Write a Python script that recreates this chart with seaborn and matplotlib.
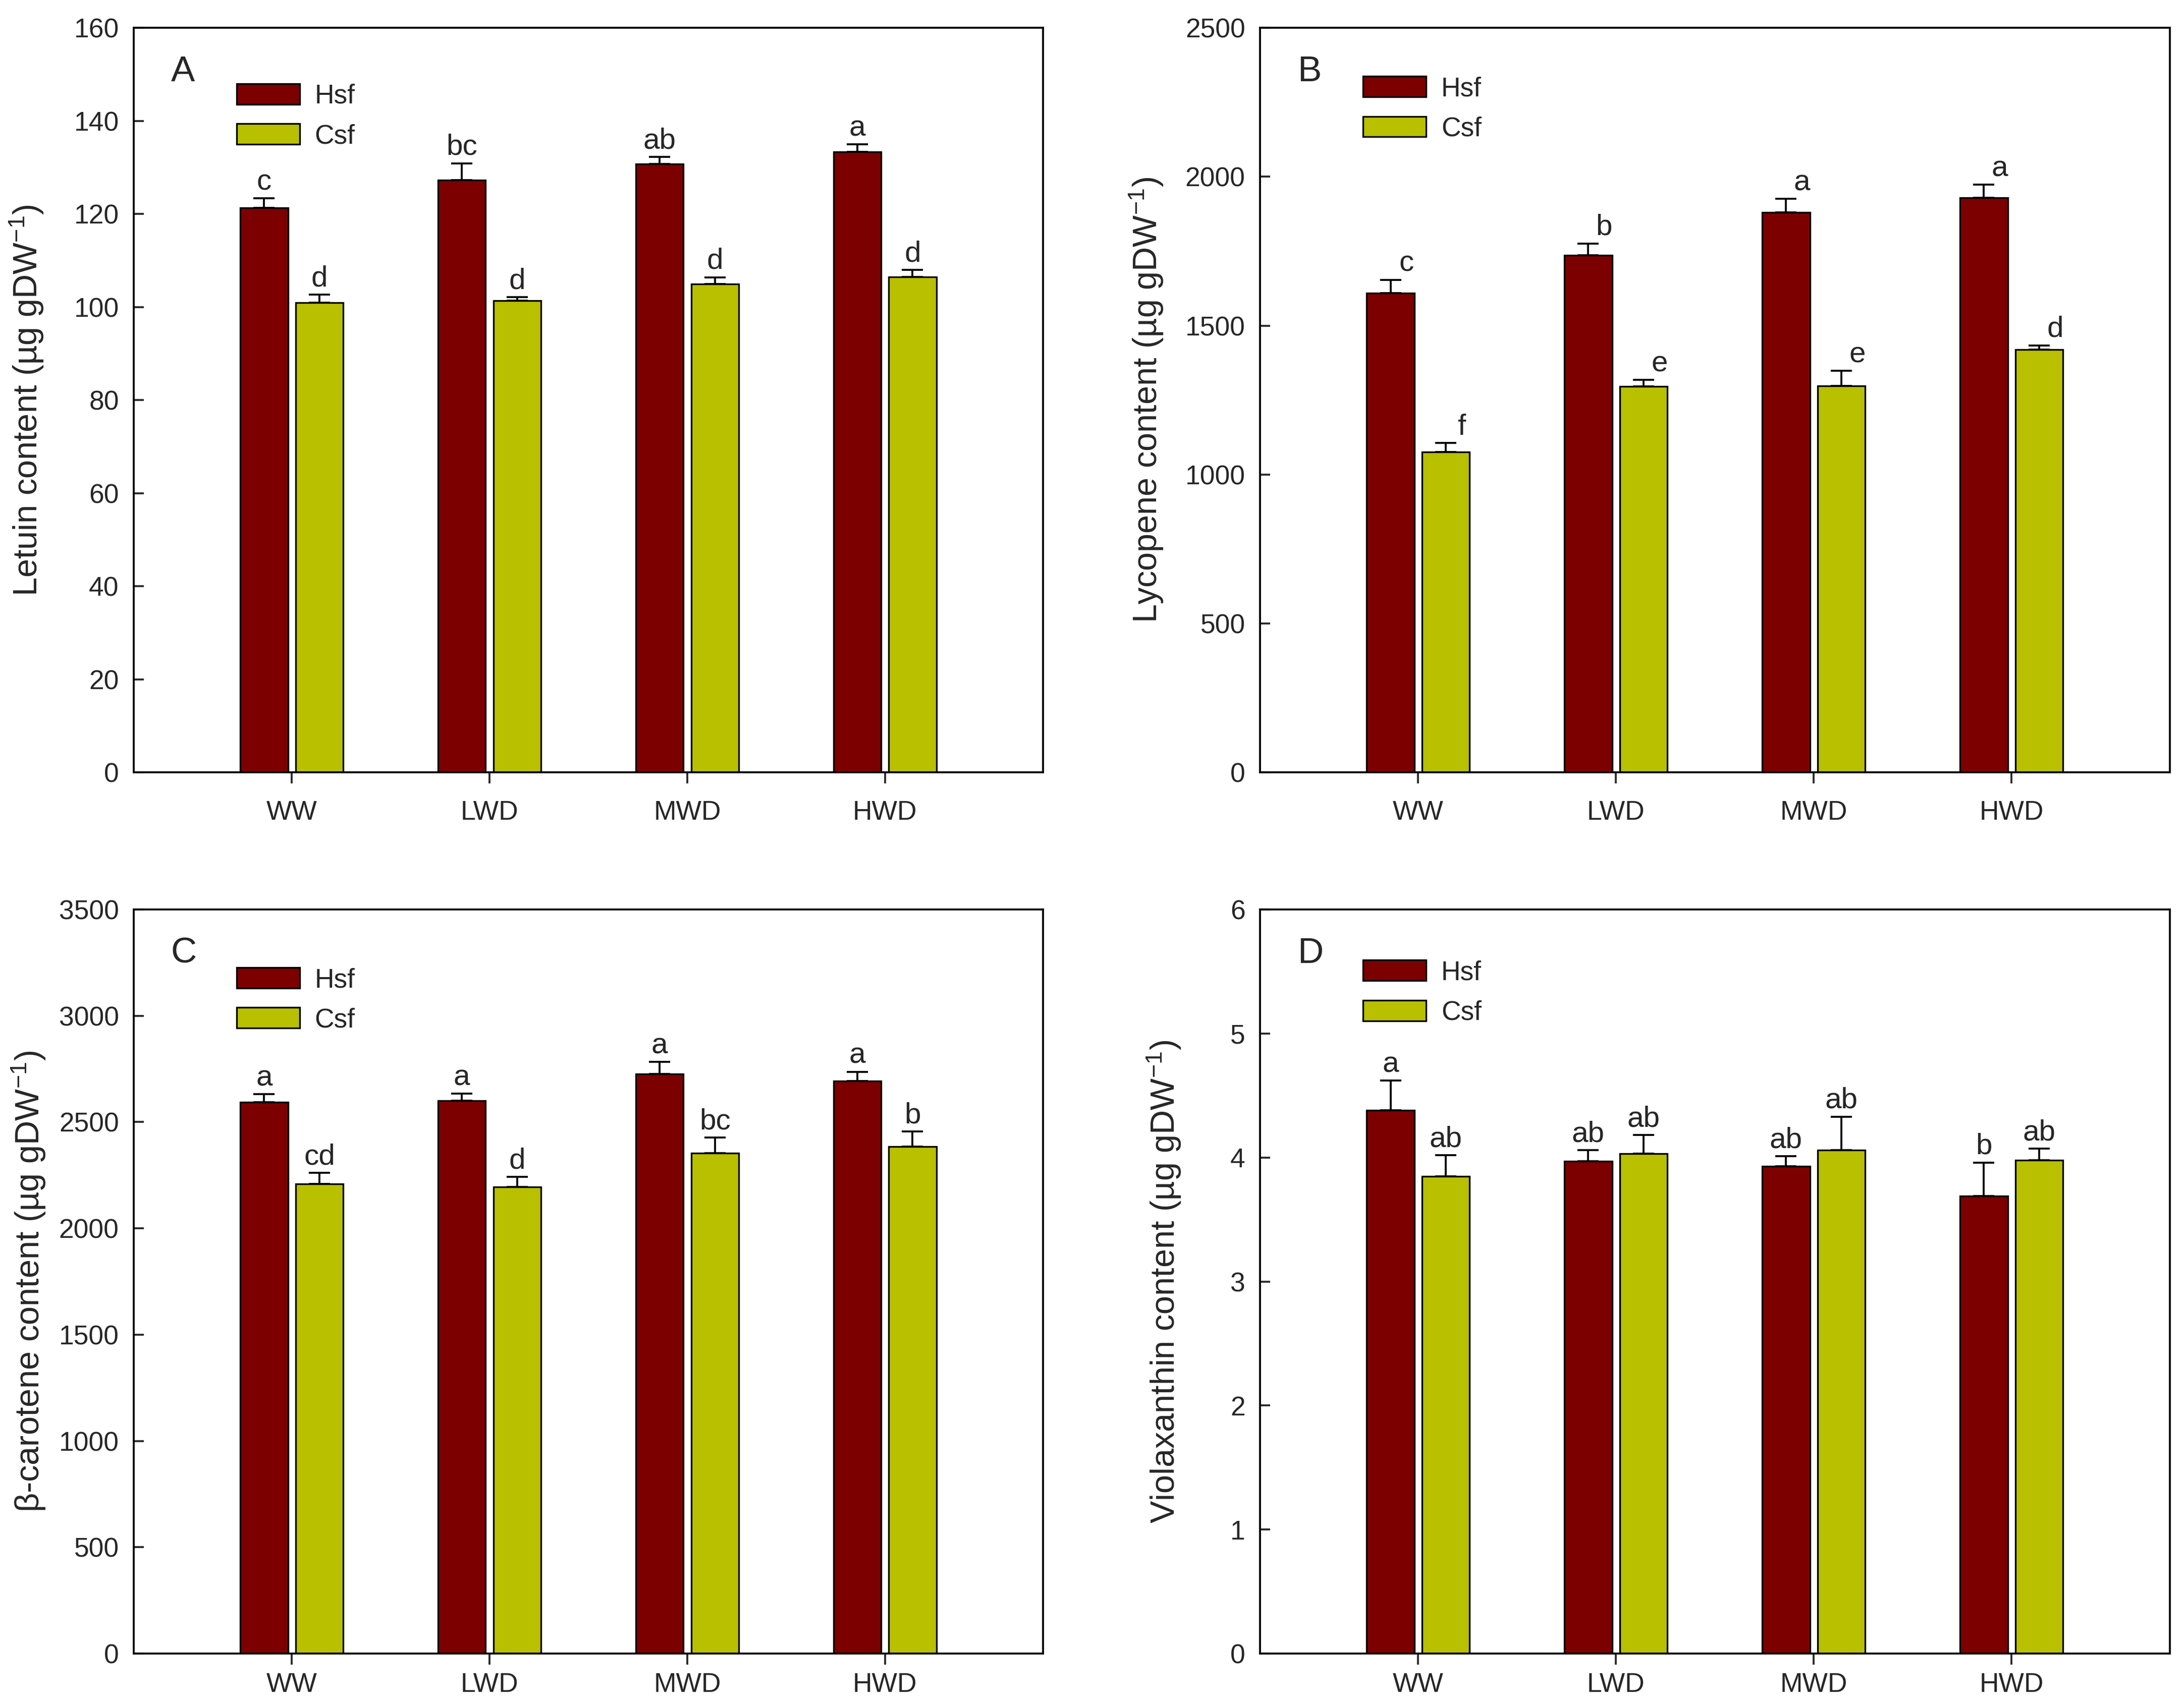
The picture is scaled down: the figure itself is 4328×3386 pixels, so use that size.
import numpy as np
import pandas as pd
import matplotlib
matplotlib.use("Agg")
import matplotlib.pyplot as plt
import seaborn as sns

# ---- data ----
treatments = ["WW", "LWD", "MWD", "HWD"]
sources = ["Hsf", "Csf"]

letuin_hsf = [121.3, 127.3, 130.8, 133.4]
letuin_csf = [100.9, 101.4, 104.9, 106.5]
letuin_hsf_se = [2.1, 3.6, 1.5, 1.6]
letuin_csf_se = [1.8, 0.7, 1.5, 1.5]
letuin_hsf_sig = ["c", "bc", "ab", "a"]
letuin_csf_sig = ["d", "d", "d", "d"]

lycopene_hsf = [1610, 1736, 1880, 1930]
lycopene_csf = [1075, 1296, 1298, 1420]
lycopene_hsf_se = [44, 40, 46, 43]
lycopene_csf_se = [31, 22, 51, 14]
lycopene_hsf_sig = ["c", "b", "a", "a"]
lycopene_csf_sig = ["f", "e", "e", "d"]

carotene_hsf = [2593, 2601, 2727, 2693]
carotene_csf = [2209, 2194, 2355, 2384]
carotene_hsf_se = [39, 33, 56, 44]
carotene_csf_se = [52, 49, 72, 71]
carotene_hsf_sig = ["a", "a", "a", "a"]
carotene_csf_sig = ["cd", "d", "bc", "b"]

viola_hsf = [4.38, 3.97, 3.93, 3.69]
viola_csf = [3.85, 4.03, 4.06, 3.98]
viola_hsf_se = [0.24, 0.09, 0.08, 0.27]
viola_csf_se = [0.17, 0.15, 0.27, 0.09]
viola_hsf_sig = ["a", "ab", "ab", "b"]
viola_csf_sig = ["ab", "ab", "ab", "ab"]

panel_letters = ["A", "B", "C", "D"]
ylabels = [
    r"Letuin content (µg gDW$^{-1}$)",
    r"Lycopene content (µg gDW$^{-1}$)",
    r"β-carotene content (µg gDW$^{-1}$)",
    r"Violaxanthin content (µg gDW$^{-1}$)",
]
ymax = [160, 2500, 3500, 6]
ystep = [20, 500, 500, 1]

panels = [
    (letuin_hsf, letuin_csf, letuin_hsf_se, letuin_csf_se, letuin_hsf_sig, letuin_csf_sig),
    (lycopene_hsf, lycopene_csf, lycopene_hsf_se, lycopene_csf_se, lycopene_hsf_sig, lycopene_csf_sig),
    (carotene_hsf, carotene_csf, carotene_hsf_se, carotene_csf_se, carotene_hsf_sig, carotene_csf_sig),
    (viola_hsf, viola_csf, viola_hsf_se, viola_csf_se, viola_hsf_sig, viola_csf_sig),
]

colors = {"Hsf": "#7d0000", "Csf": "#b8c000"}

# ---- style ----
sns.set_style("ticks")
plt.rcParams["font.family"] = ["Liberation Sans", "DejaVu Sans"]
plt.rcParams["mathtext.fontset"] = "custom"
plt.rcParams["mathtext.rm"] = "Liberation Sans"
plt.rcParams["mathtext.it"] = "Liberation Sans:italic"

fig = plt.figure(figsize=(4328 / 300, 3386 / 300), dpi=300)

# axes rectangles (figure fraction)
rects = [
    [0.0612, 0.5478, 0.4164, 0.4359],
    [0.5769, 0.5478, 0.4166, 0.4359],
    [0.0612, 0.0319, 0.4164, 0.4356],
    [0.5769, 0.0319, 0.4166, 0.4356],
]
label_x = [-0.097, -0.104, -0.095, -0.085]
legend_y = [0.925, 0.935, 0.922, 0.932]
xpad = [8, 8, 3.8, 3.8]
sig_dx = [0, 7.5, 0, 0]

for i, (hsf, csf, hsf_se, csf_se, hsf_sig, csf_sig) in enumerate(panels):
    ax = fig.add_axes(rects[i])

    df = pd.DataFrame({
        "treatment": treatments * 2,
        "source": ["Hsf"] * 4 + ["Csf"] * 4,
        "value": hsf + csf,
    })

    sns.barplot(data=df, x="treatment", y="value", hue="source",
                order=treatments, hue_order=sources, palette=colors,
                width=0.56, gap=0.14, errorbar=None, edgecolor="black",
                linewidth=0.8, saturation=1, legend=False, ax=ax)

    bar_conts = list(ax.containers)
    errs = [hsf_se, csf_se]
    sigs = [hsf_sig, csf_sig]
    for c, cont in enumerate(bar_conts):
        xs = [b.get_x() + b.get_width() / 2 for b in cont]
        ys = [b.get_height() for b in cont]
        ax.errorbar(xs, ys, yerr=[np.zeros(len(ys)), errs[c]], fmt="none",
                    ecolor="black", elinewidth=0.9, capsize=5, capthick=0.9,
                    zorder=3)
        for x, y, e, s in zip(xs, ys, errs[c], sigs[c]):
            ax.annotate(s, (x, y + e), xytext=(sig_dx[i], 4),
                        textcoords="offset points", ha="center",
                        va="baseline", fontsize=14)

    ax.set_xlim(-0.8, 3.8)
    ax.set_ylim(0, ymax[i])
    ax.set_yticks(np.arange(0, ymax[i] + ystep[i] / 2, ystep[i]))
    ax.set_xlabel("")
    ax.set_ylabel(ylabels[i], fontsize=16)
    ax.yaxis.set_label_coords(label_x[i], 0.5)

    for sp in ax.spines.values():
        sp.set_visible(True)
        sp.set_linewidth(0.9)
        sp.set_color("black")
    ax.tick_params(axis="y", direction="in", length=4.8, width=0.9,
                   labelsize=12.8, pad=7, left=True, right=False)
    ax.tick_params(axis="x", direction="out", length=5.2, width=0.9,
                   labelsize=12.8, pad=xpad[i], top=False, bottom=True)

    ax.text(0.041, 0.963, panel_letters[i], transform=ax.transAxes,
            ha="left", va="top", fontsize=17)
    ax.legend(bar_conts, sources, loc="upper left",
              bbox_to_anchor=(0.113, legend_y[i]), frameon=False,
              fontsize=12.8, handlelength=2.35, handleheight=0.8,
              handletextpad=0.56, labelspacing=0.55, borderpad=0,
              borderaxespad=0)

fig.savefig("out.png", dpi=300)
